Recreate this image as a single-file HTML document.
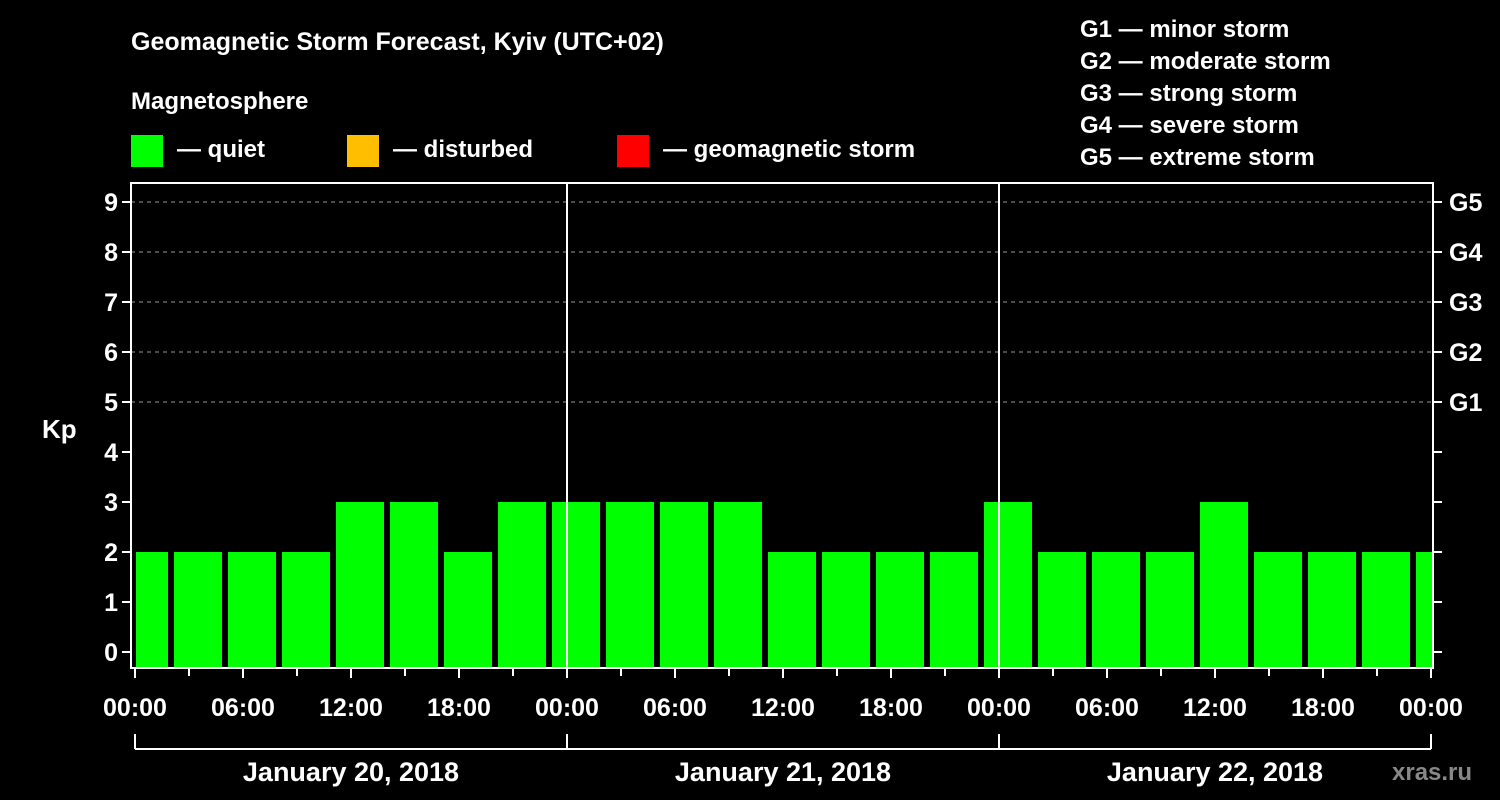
<!DOCTYPE html>
<html><head><meta charset="utf-8"><style>
body{margin:0;background:#000;width:1500px;height:800px;overflow:hidden}
svg{display:block;font-family:"Liberation Sans",sans-serif;font-weight:bold;fill:#fff}
</style></head><body>
<svg id="c" width="1500" height="800">
<rect width="1500" height="800" fill="#000"/>
<text x="131" y="50" font-size="25">Geomagnetic Storm Forecast, Kyiv (UTC+02)</text>
<text x="131" y="109" font-size="24">Magnetosphere</text>
<rect x="131" y="135" width="32" height="32" fill="#00ff00"/>
<text x="177" y="157" font-size="24">— quiet</text>
<rect x="347" y="135" width="32" height="32" fill="#ffbf00"/>
<text x="393" y="157" font-size="24">— disturbed</text>
<rect x="617" y="135" width="32" height="32" fill="#ff0000"/>
<text x="663" y="157" font-size="24">— geomagnetic storm</text>
<g font-size="24">
<text x="1080" y="37">G1 — minor storm</text>
<text x="1080" y="69">G2 — moderate storm</text>
<text x="1080" y="101">G3 — strong storm</text>
<text x="1080" y="133">G4 — severe storm</text>
<text x="1080" y="165">G5 — extreme storm</text>
</g>
<text x="42" y="438" font-size="26">Kp</text>
<text x="1392" y="780" font-size="24" fill="#888" style="fill:#888">xras.ru</text>
<g id="plot"></g>
</svg>
<script>
const values=[2,2,2,2,3,3,2,3,3,3,3,3,2,2,2,2,3,2,2,2,3,2,2,2,2];
const yTicks=[0,1,2,3,4,5,6,7,8,9];
const gLabels=["G1","G2","G3","G4","G5"];
const xLabels=["00:00","06:00","12:00","18:00","00:00","06:00","12:00","18:00","00:00","06:00","12:00","18:00","00:00"];
const dayLabels=["January 20, 2018","January 21, 2018","January 22, 2018"];
const L=131,R=1433,T=183,B=668,X0=135,PXH=18;
const xs=h=>X0+h*PXH, ys=v=>652-50*v;
const NS="http://www.w3.org/2000/svg",g=document.getElementById('plot');
function mk(t,a,p){const e=document.createElementNS(NS,t);for(const k in a)e.setAttribute(k,a[k]);(p||g).appendChild(e);return e;}
const clip=mk('clipPath',{id:'cl'});mk('rect',{x:L+5,y:T,width:R-L-5,height:B-T},clip);
const bars=mk('g',{'clip-path':'url(#cl)'});
values.forEach((v,i)=>{const c=xs(i*3+0.5);const col=v>=5?'#ff0000':v>=4?'#ffbf00':'#00ff00';
const e=mk('rect',{x:c-24,y:ys(v),width:48,height:B-1-ys(v),fill:col},bars);

});
for(let v=5;v<=9;v++){const e=mk('line',{x1:L,x2:R,y1:ys(v),y2:ys(v),stroke:'#999','stroke-dasharray':'4,4','stroke-width':1});

}
for(let d=1;d<3;d++){const e=mk('line',{x1:xs(d*24),x2:xs(d*24),y1:T,y2:B,stroke:'#fff','stroke-width':2});

}
const fr=mk('rect',{x:L,y:T,width:R-L,height:B-T,fill:'none',stroke:'#fff','stroke-width':2});


yTicks.forEach(v=>{mk('line',{x1:L-9,x2:L,y1:ys(v),y2:ys(v),stroke:'#fff','stroke-width':2});
mk('line',{x1:R,x2:R+9,y1:ys(v),y2:ys(v),stroke:'#fff','stroke-width':2});
const t=mk('text',{x:L-13,y:ys(v)+9,'text-anchor':'end','font-size':25});t.textContent=v;

});
gLabels.forEach((s,i)=>{const t=mk('text',{x:R+16,y:ys(5+i)+9,'font-size':25});t.textContent=s;

});
for(let h=0;h<=72;h+=3){const maj=h%6==0;mk('line',{x1:xs(h),x2:xs(h),y1:B,y2:B+(maj?10:8),stroke:'#fff','stroke-width':2});}
xLabels.forEach((s,i)=>{const t=mk('text',{x:xs(i*6),y:716,'text-anchor':'middle','font-size':25});t.textContent=s;

});
mk('line',{x1:xs(0),x2:xs(72),y1:749,y2:749,stroke:'#fff','stroke-width':2});
for(let d=0;d<=3;d++)mk('line',{x1:xs(d*24),x2:xs(d*24),y1:734,y2:749,stroke:'#fff','stroke-width':2});
dayLabels.forEach((s,i)=>{const t=mk('text',{x:xs(i*24+12),y:781,'text-anchor':'middle','font-size':27});t.textContent=s;

});
</script>
</body></html>
